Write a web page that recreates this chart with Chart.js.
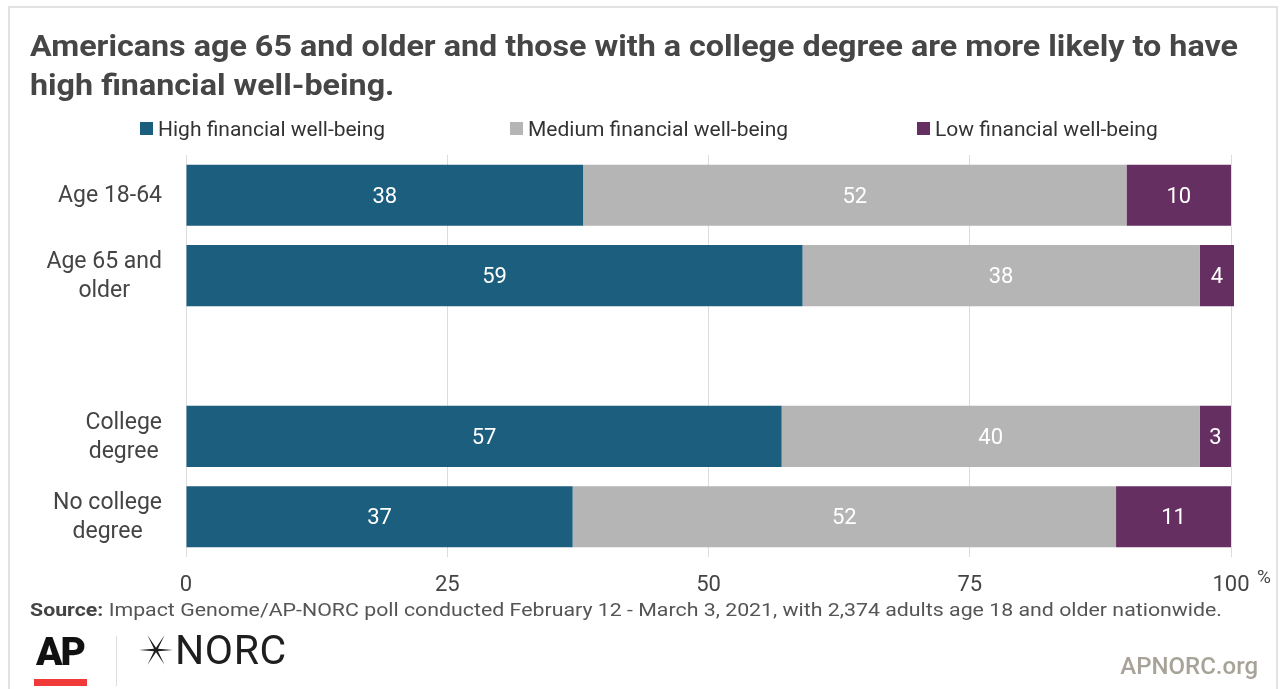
<!DOCTYPE html>
<html>
<head>
<meta charset="utf-8">
<script src="https://cdn.jsdelivr.net/npm/chart.js@4/dist/chart.umd.min.js"></script>
<style>
  html, body { margin: 0; padding: 0; background: #fff; }
  #page { position: relative; width: 1285px; height: 689px; overflow: hidden; background: #fff; font-family: Roboto, "Noto Sans", sans-serif; }
  #frame { position: absolute; left: 8px; top: 6px; width: 1270px; height: 720px; border: 2px solid #e2e2e2; box-sizing: border-box; }
  #chart { position: absolute; left: 0; top: 0; }
  .fit { position: absolute; white-space: nowrap; transform-origin: 0 0; }
  #title { left: 30px; top: 27px; font-weight: 700; font-size: 29px; line-height: 39px; color: #464646; }
  .leg { position: absolute; top: 117px; font-size: 21px; line-height: 24px; color: #333; white-space: nowrap; }
  .leg i { position: absolute; left: -18px; top: 5px; width: 13px; height: 13px; }
  #source { left: 30px; top: 598px; font-size: 19px; line-height: 24px; color: #555; }
  #source b { color: #444; }
  #ap { position: absolute; left: 36px; top: 630px; font-size: 39px; font-weight: 900; letter-spacing: -2px; color: #111; line-height: 44px; }
  #apbar { position: absolute; left: 34px; top: 679px; width: 53px; height: 7px; background: #f03a3a; }
  #sep { position: absolute; left: 116px; top: 636px; width: 1px; height: 50px; background: #ddd; }
  #star { position: absolute; left: 138px; top: 632px; }
  #norc { position: absolute; left: 175px; top: 627px; font-size: 41px; font-weight: 400; color: #1e1e1e; line-height: 46px; letter-spacing: 0.6px; }
  #site { position: absolute; right: 27px; top: 652px; font-size: 24px; font-weight: 500; color: #a8a398; line-height: 28px; }
</style>
</head>
<body>
<div id="page">
  <div id="frame"></div>
  <canvas id="chart" width="1285" height="689"></canvas>
  <div id="title" class="fit" data-width="1208"><span>Americans age 65 and older and those with a college degree are more likely to have</span><br><span>high financial well-being.</span></div>
  <div class="leg" style="left:158px"><i style="background:#1b5e7e"></i>High financial well-being</div>
  <div class="leg" style="left:528px"><i style="background:#b5b5b5"></i>Medium financial well-being</div>
  <div class="leg" style="left:935px"><i style="background:#652f62"></i>Low financial well-being</div>
  <div id="source" class="fit" data-width="1192"><b>Source:</b> Impact Genome/AP-NORC poll conducted February 12 - March 3, 2021, with 2,374 adults age 18 and older nationwide.</div>
  <div id="ap">AP</div>
  <div id="apbar"></div>
  <div id="sep"></div>
  <svg id="star" width="36" height="36" viewBox="-18 -18 36 36">
    <polygon id="starShape" fill="#1e1e1e"></polygon>
  </svg>
  <div id="norc">NORC</div>
  <div id="site">APNORC.org</div>
</div>
<script>
// Categories (blank entry separates the age group from the education group)
const categories = ['Age 18-64', ['Age 65 and', 'older'], '', ['College', 'degree'], ['No college', 'degree']];

// Share of adults in each financial well-being group, percent
const highWellBeing   = [38, 59, null, 57, 37];
const mediumWellBeing = [52, 38, null, 40, 52];
const lowWellBeing    = [10, 4,  null, 3,  11];

const seriesNames = ['High financial well-being', 'Medium financial well-being', 'Low financial well-being'];
const seriesColors = ['#1b5e7e', '#b5b5b5', '#652f62'];

// X axis tick values
const xTicks = [0, 25, 50, 75, 100];

// Six-pointed thin star for the NORC mark
(function () {
  const pts = [];
  for (let i = 0; i < 12; i++) {
    const a = i * Math.PI / 6;
    const r = (i % 2 === 0) ? 17 : 2.3;
    pts.push((r * Math.cos(a)).toFixed(2) + ',' + (r * Math.sin(a)).toFixed(2));
  }
  document.getElementById('starShape').setAttribute('points', pts.join(' '));
})();

// Horizontally compress long text lines so they span the given width
document.querySelectorAll('.fit').forEach(el => {
  const target = +el.dataset.width;
  const w = el.getBoundingClientRect().width;
  if (w > 0) el.style.transform = 'scaleX(' + (target / w) + ')';
});

const FONT = 'Roboto, "Noto Sans", sans-serif';

// White value labels centred in each bar segment
const segmentLabels = {
  id: 'segmentLabels',
  afterDatasetsDraw(chart) {
    const ctx = chart.ctx;
    ctx.save();
    ctx.font = '22px ' + FONT;
    ctx.fillStyle = '#ffffff';
    ctx.textAlign = 'center';
    ctx.textBaseline = 'middle';
    const right = chart.chartArea.right + 3;
    chart.data.datasets.forEach((ds, di) => {
      chart.getDatasetMeta(di).data.forEach((el, i) => {
        const v = ds.data[i];
        if (v == null) return;
        const x1 = Math.min(el.x, right);
        const cx = (el.base + x1) / 2;
        ctx.fillText(String(v), cx, el.y + 2);
      });
    });
    ctx.restore();
  }
};

// Category labels: each block right-aligned to the axis, its lines centred
const categoryLabels = {
  id: 'categoryLabels',
  afterDraw(chart) {
    const ctx = chart.ctx;
    const y = chart.scales.y;
    const xs = chart.scales.x;
    ctx.save();
    ctx.font = '23px ' + FONT;
    ctx.fillStyle = '#444';
    ctx.textAlign = 'center';
    ctx.textBaseline = 'middle';
    const edge = chart.chartArea.left - 24;
    const lh = 29;
    chart.data.labels.forEach((lab, i) => {
      const lines = Array.isArray(lab) ? lab : [lab];
      if (!lines[0]) return;
      const wmax = Math.max(...lines.map(l => ctx.measureText(l).width));
      const cx = edge - wmax / 2;
      const cy = y.getPixelForTick(i);
      lines.forEach((l, k) => {
        ctx.fillText(l, cx, cy + 1 + (k - (lines.length - 1) / 2) * lh);
      });
    });
    // percent sign after the last tick
    ctx.font = '19px ' + FONT;
    ctx.textAlign = 'left';
    ctx.fillText('%', xs.getPixelForValue(100) + 26, 578);
    ctx.restore();
  }
};

const datasets = [highWellBeing, mediumWellBeing, lowWellBeing].map((d, i) => ({
  label: seriesNames[i],
  data: d,
  backgroundColor: seriesColors[i],
  borderWidth: 0,
  barPercentage: 1,
  categoryPercentage: 0.76,
  clip: { left: false, top: false, right: 3, bottom: false }
}));

new Chart(document.getElementById('chart'), {
  type: 'bar',
  data: { labels: categories, datasets },
  options: {
    indexAxis: 'y',
    responsive: false,
    animation: false,
    devicePixelRatio: 1,
    layout: { padding: { left: 0, right: 54, top: 155, bottom: 0 } },
    plugins: { legend: { display: false }, tooltip: { enabled: false } },
    scales: {
      x: {
        stacked: true,
        min: 0,
        max: 100,
        afterBuildTicks(scale) { scale.ticks = xTicks.map(v => ({ value: v })); },
        ticks: {
          padding: 15,
          autoSkip: false,
          maxRotation: 0,
          color: '#444',
          font: { family: FONT, size: 22 }
        },
        grid: { color: '#dcdcdc', lineWidth: 1, drawTicks: false },
        border: { display: false },
        afterFit(scale) { scale.height = 132; }
      },
      y: {
        stacked: true,
        ticks: { display: false },
        grid: { display: false },
        border: { display: false },
        afterFit(scale) { scale.width = 186; }
      }
    }
  },
  plugins: [segmentLabels, categoryLabels]
});
</script>
</body>
</html>
